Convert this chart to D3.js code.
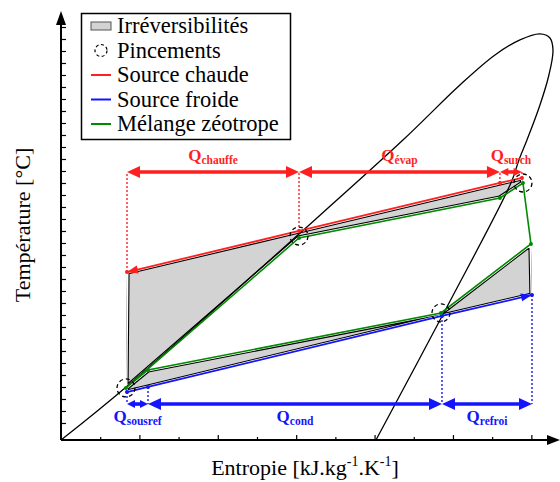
<!DOCTYPE html>
<html><head><meta charset="utf-8">
<script src="https://cdn.jsdelivr.net/npm/d3@7"></script>
<style>body{margin:0;background:#fff}svg{display:block}</style>
</head><body>
<svg id="c" width="560" height="482"></svg>
<script>
// ---------- data (entropy s, temperature T in axis units) ----------
const domeS = [0, 0.816, 3.036, 4.362, 5.089, 5.536, 5.855, 6.110, 6.237, 6.276, 6.224, 6.110, 5.944, 5.842, 5.740, 4.923, 4.018];
const domeT = [-1.42, 2.92, 15.75, 23.58, 28.17, 30.67, 31.92, 32.42, 32.08, 31.08, 29.0, 26.5, 23.58, 21.92, 20.0, 9.67, -1.42];
const hotS = [0.842, 3.036, 5.599, 5.880];
const hotT = [12.58, 16.0, 20.0, 20.42];
const coldS = [0.842, 1.110, 4.860, 6.008];
const coldT = [2.58, 3.0, 8.92, 10.67];
const cycleS = [0.829, 3.036, 5.599, 5.893, 5.995, 4.847, 1.110];
const cycleT = [2.92, 15.42, 18.75, 20.0, 14.92, 9.17, 4.42];
const pinchS = [0.829, 3.036, 4.847, 5.893];
const pinchT = [2.92, 15.58, 9.17, 20.0];
const hotLabels = ["chauffe", "évap", "surch"];
const coldLabels = ["sousref", "cond", "refroi"];
const legendLabels = ["Irréversibilités", "Pincements", "Source chaude", "Source froide", "Mélange zéotrope"];
const xMajor = [1, 2, 3, 4, 5, 6];
const xMinor = [0.5, 1.5, 2.5, 3.5, 4.5, 5.5];
const yTicks = d3.range(0, 34, 1);
const hotLevel = 20.92, coldLevel = 1.58;

// ---------- layout ----------
const RED = "#ff1f1f", BLUE = "#1414ff", GREEN = "#008a00", GRAY = "#d3d3d3";
const svg = d3.select("#c");
const defs = svg.append("defs");
const x = d3.scaleLinear().domain([0, 6.34]).range([61, 558]);
const y = d3.scaleLinear().domain([-1.417, 34.25]).range([440, 12]);
const P = (s, t) => [x(s), y(t)];
const hot = hotS.map((s, i) => P(s, hotT[i]));
const cold = coldS.map((s, i) => P(s, coldT[i]));
const cyc = cycleS.map((s, i) => P(s, cycleT[i]));
const dome = domeS.map((s, i) => P(s, domeT[i]));
const serif = "'Liberation Serif','Times New Roman',serif";

// ---------- axes ----------
const gx = svg.append("g").attr("transform", `translate(0,${y.range()[0]})`);
gx.call(d3.axisBottom(x).tickValues(xMajor).tickSize(-5).tickFormat(""));
gx.append("g").call(d3.axisBottom(x).tickValues(xMinor).tickSize(-3).tickFormat(""));
const gy = svg.append("g").attr("transform", `translate(${x(0)},0)`);
gy.call(d3.axisLeft(y).tickValues(yTicks).tickSize(-5).tickFormat(""));
svg.selectAll(".domain").remove();
svg.selectAll(".tick line").attr("stroke", "#000").attr("stroke-width", 1.2);
svg.append("line").attr("x1", x(0)).attr("x2", 550).attr("y1", y(-1.417)).attr("y2", y(-1.417)).attr("stroke", "#000").attr("stroke-width", 2);
svg.append("line").attr("x1", x(0)).attr("x2", x(0)).attr("y1", y(-1.417)).attr("y2", 22).attr("stroke", "#000").attr("stroke-width", 2);
svg.append("path").attr("d", `M560,440L547,435L547,445Z`).attr("fill", "#000");
svg.append("path").attr("d", `M61,11L56,25L66,25Z`).attr("fill", "#000");

// ---------- irreversibility regions ----------
function region(pts, id) {
  const d = "M" + pts.map(p => p.join(",")).join("L") + "Z";
  defs.append("clipPath").attr("id", id).append("path").attr("d", d);
  const g = svg.append("g").attr("clip-path", `url(#${id})`);
  g.append("path").attr("d", d).attr("fill", GRAY).attr("stroke", "#000").attr("stroke-width", 5.2);
  g.append("path").attr("d", d).attr("fill", "none").attr("stroke", "#fff").attr("stroke-width", 3.0);
}
region(hot.concat([cyc[3], cyc[2], cyc[1], cyc[0]]), "hotClip");
region(cold.concat([cyc[4], cyc[5], cyc[6], cyc[0]]), "coldClip");

// ---------- saturation dome ----------
svg.append("path").attr("d", d3.line().curve(d3.curveCatmullRom.alpha(0.5))(dome))
  .attr("fill", "none").attr("stroke", "#000").attr("stroke-width", 1.3);

// ---------- dotted projection lines ----------
function vdots(pts, level, color) {
  pts.forEach(p => svg.append("line").attr("x1", p[0]).attr("x2", p[0]).attr("y1", p[1]).attr("y2", y(level))
    .attr("stroke", color).attr("stroke-width", 1.4).attr("stroke-dasharray", "2,2"));
}
vdots(hot, hotLevel, RED);
vdots(cold, coldLevel, BLUE);

// ---------- source lines ----------
function headAt(tip, from, color, len, hw) {
  const a = Math.atan2(tip[1] - from[1], tip[0] - from[0]);
  const bx = tip[0] - len * Math.cos(a), by = tip[1] - len * Math.sin(a);
  const nx = -Math.sin(a) * hw, ny = Math.cos(a) * hw;
  svg.append("path").attr("d", `M${tip[0]},${tip[1]}L${bx + nx},${by + ny}L${bx - nx},${by - ny}Z`).attr("fill", color);
}
const line = d3.line();
svg.append("path").attr("d", line(hot)).attr("fill", "none").attr("stroke", RED).attr("stroke-width", 1.8);
headAt(hot[0], hot[1], RED, 11, 4);
svg.append("path").attr("d", line(cold)).attr("fill", "none").attr("stroke", BLUE).attr("stroke-width", 1.8);
headAt(cold[3], cold[2], BLUE, 11, 4);
svg.append("path").attr("d", line(cyc.concat([cyc[0]]))).attr("fill", "none").attr("stroke", GREEN).attr("stroke-width", 1.6);
hot.forEach(p => svg.append("circle").attr("cx", p[0]).attr("cy", p[1]).attr("r", 2).attr("fill", RED));
cold.forEach(p => svg.append("circle").attr("cx", p[0]).attr("cy", p[1]).attr("r", 2).attr("fill", BLUE));
cyc.forEach(p => svg.append("circle").attr("cx", p[0]).attr("cy", p[1]).attr("r", 2).attr("fill", GREEN));

// ---------- pinch circles ----------
pinchS.forEach((s, i) => svg.append("circle").attr("cx", x(s)).attr("cy", y(pinchT[i])).attr("r", 9)
  .attr("fill", "none").attr("stroke", "#000").attr("stroke-width", 1.3).attr("stroke-dasharray", "4,3"));

// ---------- heat arrows ----------
function dblArrow(x1, x2, yy, color) {
  const span = x2 - x1;
  const len = Math.min(13, span * 0.38), hw = span < 40 ? 4 : 6;
  svg.append("line").attr("x1", x1 + len * 0.8).attr("x2", x2 - len * 0.8).attr("y1", yy).attr("y2", yy)
    .attr("stroke", color).attr("stroke-width", 3.6);
  headAt([x1, yy], [x2, yy], color, len, hw);
  headAt([x2, yy], [x1, yy], color, len, hw);
}
function qLabel(cx, yy, sub, color) {
  const t = svg.append("text").attr("x", cx).attr("y", yy).attr("text-anchor", "middle")
    .attr("font-family", serif).attr("font-weight", "bold").attr("fill", color);
  t.append("tspan").attr("font-size", 17).text("Q");
  t.append("tspan").attr("font-size", 11.5).attr("dy", 3).text(sub);
}
hotLabels.forEach((lab, i) => {
  const x1 = x(hotS[i]), x2 = x(hotS[i + 1]);
  dblArrow(x1, x2, y(hotLevel), RED);
  qLabel((x1 + x2) / 2, y(hotLevel) - 11, lab, RED);
});
coldLabels.forEach((lab, i) => {
  const x1 = x(coldS[i]), x2 = x(coldS[i + 1]);
  dblArrow(x1, x2, y(coldLevel), BLUE);
  qLabel((x1 + x2) / 2, y(coldLevel) + 18, lab, BLUE);
});

// ---------- axis titles ----------
const xt = svg.append("text").attr("x", 305).attr("y", 475).attr("text-anchor", "middle")
  .attr("font-family", serif).attr("font-size", 22).attr("fill", "#000");
xt.append("tspan").text("Entropie [kJ.kg");
xt.append("tspan").attr("font-size", 14).attr("dy", -9).text("-1");
xt.append("tspan").attr("dy", 9).text(".K");
xt.append("tspan").attr("font-size", 14).attr("dy", -9).text("-1");
xt.append("tspan").attr("dy", 9).text("]");
svg.append("text").attr("transform", "translate(30,225) rotate(-90)").attr("text-anchor", "middle")
  .attr("font-family", serif).attr("font-size", 22).attr("fill", "#000").text("Température [°C]");

// ---------- legend ----------
const lg = svg.append("g");
lg.append("rect").attr("x", 81.5).attr("y", 13.5).attr("width", 209).attr("height", 126)
  .attr("fill", "#fff").attr("stroke", "#000").attr("stroke-width", 1.5);
legendLabels.forEach((lab, i) => {
  const by = 33 + i * 24.5, cy = by - 7;
  if (i === 0) lg.append("rect").attr("x", 91).attr("y", cy - 4).attr("width", 20).attr("height", 8)
    .attr("fill", GRAY).attr("stroke", "#555").attr("stroke-width", 1);
  else if (i === 1) lg.append("circle").attr("cx", 101).attr("cy", cy).attr("r", 6)
    .attr("fill", "none").attr("stroke", "#000").attr("stroke-width", 1.2).attr("stroke-dasharray", "3,2.5");
  else lg.append("line").attr("x1", 91).attr("x2", 111).attr("y1", cy).attr("y2", cy)
    .attr("stroke", [RED, BLUE, GREEN][i - 2]).attr("stroke-width", 2);
  lg.append("text").attr("x", 117).attr("y", by).attr("font-family", serif).attr("font-size", 22.5)
    .attr("fill", "#000").text(lab);
});
</script>
</body></html>
